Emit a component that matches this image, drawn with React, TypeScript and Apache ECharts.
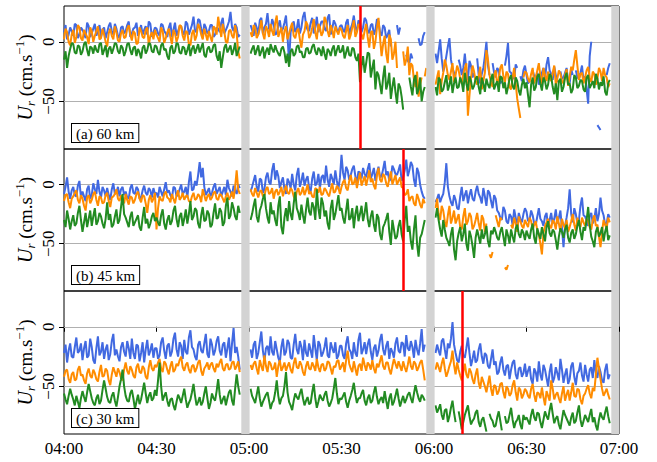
import React, { useEffect, useRef } from 'react';
import * as echarts from 'echarts';

// Time axis: minutes since 04:00. "Full" arrays hold the value at each whole minute (0..180),
// "Half" arrays the value read at each half minute (0.5..179.5).
const X_TICKS = [0, 30, 60, 90, 120, 150, 180];
const Y_TICKS = [-50, 0];
const PANEL_LABELS = ['(a) 60 km', '(b) 45 km', '(c) 30 km'];
const RED_LINES = [96, 110, 129];
const GAP_BANDS = [[57.5, 60.2], [117.5, 120.2], [177.5, 180]];

const a60Blue = [
  8, 2, 12, 5, 14, 6, 10, 3, 13, 7, 15, 9, 4, 12, 8, 16, 6, 11, 3, 13, 9, 17, 7, 12, 5, 14, 10, 6, 15, 8,
  11, 5, 14, 7, 12, 4, 16, 9, 13, 6, 15, 10, 21, 8, 18, 5, 12, 9, 14, 6, 11, 16, 7, 13, 25, 9, 12, 6, null, null,
  null, 10, 16, 6, 20, 12, 24, 9, 15, 7, 18, 11, 22, -18, 14, 8, 19, 12, 25, 10, 16, 7, 21, 13, 17, 9, 23, 11, 15, 8,
  14, 8, 19, 11, 22, 9, 16, 12, 18, 7, 15, 10, 17, 5, 12, 6, -4, null, 14, 12, null, -11, -18, -14, null, 3, -2, 8, null, null,
  null, -18, 2, -25, -12, 3, -22, -30, -15, -28, -10, -32, -20, -26, -14, -35, -22, 0, -28, -18, -30, -24, -33, -20, -1, -26, -31, -22, -29, -24,
  -28, -33, -24, -30, -36, -26, -31, -13, -27, -21, -34, -25, -30, -22, -35, -28, -24, -31, -20, -29, -52, 0, null, -70, -74, null, -28, -18, null, null, null,
];
const a60BlueHalf = [
  14, 6, 9, 15, 3, 12, 7, 16, 4, 11, 5, 14, 10, 3, 13, 9, 15, 5, 12, 7, 14, 4, 11, 16, 9, 6, 13, 17, 4, 12,
  7, 15, 9, 4, 16, 10, 5, 13, 8, 17, 6, 14, 9, 19, 11, 15, 7, 14, 4, 12, 8, 20, 10, 17, 12, 15, 4, null, null, null,
  14, 5, 12, 18, 7, 15, 11, 19, 6, 13, 9, 16, 4, 8, 17, 11, 7, 21, 14, 9, 20, 12, 8, 17, 11, 20, 6, 18, 10, 13,
  10, 16, 6, 15, 12, 18, 8, 20, 10, 14, 6, 19, 8, 14, 3, 10, null, null, 6, null, null, -16, -10, null, null, -3, 5, null, null, null,
  -10, -8, -14, -20, -4, -15, -26, null, -20, -22, -24, -16, -30, null, -28, -27, -12, -20, null, -26, -22, -35, null, -12, -25, -30, -19, null, -33, -20,
  -35, null, -29, -26, -31, -22, -19, -24, -32, -28, null, -31, -26, -33, -23, null, -30, -26, -33, -40, -12, null, null, -72, null, null, -22, null, null, null,
];
const a60Orange = [
  2, 8, -3, 10, 4, 12, 1, 7, -2, 9, 5, 13, 3, 6, -4, 11, 2, 8, 0, 10, 4, 14, 1, 7, -1, 9, 3, 12, 5, 2,
  6, 0, 9, 3, 11, -2, 7, 4, 13, 1, 8, -3, 10, 5, 12, 2, 6, 9, 0, 11, 21, 4, 8, -1, 10, 3, 7, -14, null, null,
  null, 4, 12, 6, 18, 2, 10, 15, 5, 22, 8, 0, 13, 7, 16, 3, 11, -5, 9, 14, 6, 19, 2, 12, 8, 17, 4, 10, 13, 6,
  10, 3, 14, 6, 18, 8, 12, 2, 15, -5, 9, 0, 20, -12, 5, -18, 2, -10, -22, null, -8, -15, -28, -20, -38, -46, -30, -29, null, null,
  null, -30, -44, -26, -20, -32, -18, -28, -24, -35, -22, -62, -30, -25, -36, -21, -33, -7, -28, -38, -24, -31, -19, -34, -27, -40, -22, -48, -64, -30,
  -26, -34, -22, -30, -18, -36, -28, -25, -33, -20, -31, -27, -35, -23, -29, -24, -7, -32, -26, -30, -21, -34, -27, -31, -25, -22, -30, -35, null, null, null,
];
const a60OrangeHalf = [
  11, 0, 6, -1, 14, 3, 10, 4, 12, 0, 9, 2, 11, 0, 7, 5, 13, 1, 7, 3, 11, 6, 9, -2, 12, 4, 10, -3, 8, 10,
  3, 12, -1, 8, 4, 10, 0, 14, 5, 9, -2, 7, 1, 15, 6, 11, 1, 4, 13, 6, 12, 15, 0, 9, 5, 14, -8, null, null, null,
  8, 14, 3, 11, 7, 13, 4, 9, 16, 4, 12, 9, 2, 12, 5, 9, 2, 6, 17, 3, 12, 8, 15, 5, 21, 9, 14, 3, 9, 12,
  5, 9, 2, 12, 4, 15, 6, 9, 4, 8, -6, 12, 3, -2, -10, 6, -15, 0, null, null, -20, -4, -18, -32, -25, -36, null, -22, null, null,
  -36, -24, -33, -15, -28, -25, -34, -20, -31, -27, -18, -45, -20, -33, -29, -40, -26, -15, -34, -28, -36, -22, -29, -25, -38, -30, -35, -56, null, -25,
  -31, -27, -35, -24, -29, -22, -33, -30, -26, -36, -24, -33, -28, -37, -21, -15, -20, -27, -35, -24, -30, -25, -36, -22, -33, -28, -38, null, null, null,
];
const a60Green = [
  -15, -22, -6, -2, -10, -4, -8, 0, -12, -5, -3, -9, -1, -7, -13, -4, -6, -2, -10, -5, -8, -1, -11, -4, -6, -14, -3, -7, -2, -9,
  -4, -11, -1, -6, -15, -3, -8, -2, -10, -5, -7, -12, -3, -6, -9, -1, -13, -4, -8, -2, -16, -22, -5, -9, -3, -7, -12, -4, null, null,
  null, -6, -11, -3, -8, -14, -5, -2, -9, -7, -12, -4, -18, -21, -6, -10, -3, -8, -13, -5, -9, -2, -11, -7, -4, -15, -8, -6, -12, -3,
  -8, -14, -4, -12, -6, -16, -34, -12, -18, -10, -22, -40, -28, -44, -20, -35, -48, -30, -52, -38, -57, null, -30, -45, -28, -40, -50, -38, null, null,
  null, -45, -32, -40, -28, -36, -43, -30, -38, -34, -26, -41, -33, -37, -29, -44, -35, -31, -39, -27, -36, -42, -30, -34, -38, -28, -40, -33, -45, -31,
  -34, -55, -30, -38, -27, -41, -33, -36, -29, -44, -49, -31, -38, -26, -35, -40, -30, -37, -33, -42, -28, -36, -39, -31, -34, -29, -45, -32, null, null, null,
];
const a60GreenHalf = [
  -8, -12, -1, -9, -3, -11, -2, -7, -4, -10, -7, -2, -11, -3, -6, -10, -1, -8, -3, -12, -2, -7, -5, -12, -9, -5, -10, -1, -8, -3,
  -9, -3, -7, -12, -5, -10, -1, -9, -4, -11, -2, -6, -10, -2, -5, -11, -6, -9, -3, -12, -8, -13, -2, -6, -11, -1, -8, null, null, null,
  -10, -3, -7, -12, -4, -8, -11, -6, -3, -10, -6, -9, -10, -8, -12, -4, -9, -13, -6, -10, -4, -8, -5, -12, -10, -6, -12, -3, -7, -9,
  -3, -9, -11, -5, -13, -10, -20, -26, -9, -30, -15, -25, -36, -30, -40, -26, -38, -42, -35, -46, null, null, -38, -32, -44, -30, -42, null, null, null,
  -38, -30, -42, -34, -41, -29, -35, -39, -30, -42, -35, -29, -40, -31, -38, -30, -42, -36, -31, -40, -33, -29, -39, -44, -31, -37, -30, -41, -36, -39,
  -45, -36, -41, -29, -35, -30, -40, -27, -38, -35, -33, -42, -30, -36, -43, -28, -39, -32, -40, -30, -39, -33, -27, -40, -37, -42, -35, null, null, null,
];

const b45Blue = [
  -8, 6, -12, -2, -10, 3, -6, -14, -1, -9, -4, 4, -11, -5, -3, -13, 1, -7, -10, -2, -6, -12, 0, -8, -4, -11, -1, -9, -5, -3,
  -7, -2, -10, 2, -5, -12, -3, -8, 0, -6, -11, 11, -4, -1, 19, 14, -9, -3, -7, 1, -5, -10, -2, 4, -6, -1, -8, -3, null, null,
  null, -2, 8, -6, 4, -4, 10, 0, 18, 12, -3, 6, -8, 2, 9, -5, 14, 3, -1, 7, -6, 11, 1, -3, 8, 16, -2, 5, 12, -4,
  25, 4, 12, 8, 16, 2, 10, 14, 6, 18, 9, 3, 15, 7, 20, 11, 5, 13, 8, 17, 6, 21, 12, 16, -2, 10, -6, -12, null, null,
  null, -12, -15, -8, 18, -10, -18, -13, -21, -2, -9, -16, -4, -14, -1, -11, -3, -18, -7, -20, -12, -24, -30, -22, -33, -27, -21, -35, -29, -25,
  -23, -30, -26, -34, -20, -31, -27, -36, -24, -29, -33, -22, -53, -28, -4, -32, -25, -30, -11, -27, -35, -24, -29, -31, -11, -26, -33, -28, null, null, null,
];
const b45BlueHalf = [
  -2, -6, -5, -9, -1, -11, -10, -4, -12, 1, -8, -6, -2, -10, -9, -4, -8, -2, -4, -9, -11, -3, -7, -2, -12, -5, -7, -3, -11, -8,
  -11, -6, -4, -7, -9, -2, -10, -4, -8, -2, 2, -5, 3, 8, 6, -2, -6, -10, -2, -8, -2, -6, -9, -3, -10, -5, 0, null, null, null,
  -6, 3, -2, 5, -7, 6, 2, 12, 4, 7, 2, -4, 5, -3, 0, 8, -2, 10, 4, -3, 5, -1, 9, 6, 1, 4, 9, 0, 3, 6,
  10, 15, 4, 13, 7, 11, 5, 9, 13, 5, 14, 10, 6, 13, 8, 3, 16, 9, 12, 3, 12, 7, 19, 4, 14, 0, -10, null, null, null,
  -15, -8, -11, 2, -2, -15, -9, -20, -10, -14, -5, -9, -12, -6, -8, -16, -10, -5, -14, -9, -22, -28, -19, -31, -25, -34, -28, -24, -32, -20,
  -31, -22, -33, -27, -29, -35, -24, -30, -33, -21, -28, -37, -35, -20, -25, -20, -33, -18, -26, -31, -27, -33, -20, -25, -22, -34, -25, null, null, null,
];
const b45Orange = [
  -14, -8, -20, -10, -5, -16, -12, -22, -9, -13, -6, -18, -11, -15, -7, -19, -10, -4, -14, -12, -8, -17, -11, -13, -6, -15, -10, -24, -9, -12,
  -38, -10, -14, -6, -12, -8, -16, -5, -11, -13, -9, -15, -7, -12, -10, -4, -14, -8, -11, -6, -13, -9, -15, -7, -10, -12, 12, -8, null, null,
  null, -8, -3, -11, -5, -9, -2, -7, -12, -4, -6, -10, -1, -8, -5, -13, -3, -7, -9, 0, -6, -11, -4, -2, -8, -5, -10, 1, -6, -3,
  -2, 4, -5, 8, 1, -3, 10, 3, -1, 12, 5, -4, 14, 2, 7, -2, 11, 4, 0, 6, -3, -8, -14, -10, -18, -12, -20, -16, null, null,
  null, -12, -30, -22, -36, -18, -28, -33, -25, -38, -20, -31, -27, -35, -24, -39, -29, -33, -59, -57, -26, -36, -30, -70, -68, -34, -28, -40, -31, -37,
  -33, -28, -38, -31, -42, -59, -35, -29, -37, -32, -27, -40, -34, -30, -36, -25, -39, -33, -28, -35, -31, -38, -26, -34, -53, -30, -37, -32, null, null, null,
];
const b45OrangeHalf = [
  -9, -15, -12, -7, -13, -9, -18, -11, -16, -8, -13, -10, -16, -9, -14, -11, -8, -12, -9, -16, -13, -10, -16, -8, -12, -9, -16, -13, -15, -7,
  -20, -13, -8, -11, -15, -12, -9, -13, -7, -10, -14, -10, -13, -8, -15, -9, -10, -13, -7, -12, -8, -12, -10, -13, -6, -2, -4, null, null, null,
  -4, -10, -7, -6, -10, -4, -8, -3, -6, -9, -2, -5, -7, -3, -10, -6, -9, -2, -5, -8, -10, -3, -7, -9, -3, -8, -4, -7, -1, -8,
  2, -3, 3, 0, 6, 4, -1, 7, 5, 2, -1, 8, 4, 9, 1, 5, 0, 8, 3, -2, -9, -4, -11, -16, -8, -17, -12, null, null, null,
  -20, -25, -18, -31, -26, -33, -22, -29, -36, -27, -34, -24, -38, -30, -33, -26, -40, null, -62, null, -31, -28, null, -72, null, -37, -33, -27, -35, -30,
  -36, -31, -34, -39, -50, -41, -32, -35, -30, -38, -33, -29, -37, -40, -31, -34, -28, -36, -32, -29, -36, -30, -35, -44, -40, -34, -28, null, null, null,
];
const b45Green = [
  -30, -22, -38, -26, -33, -18, -40, -24, -29, -35, -20, -31, -27, -37, -15, -25, -34, -21, -30, -8, -28, -36, -23, -32, -26, -39, -19, -29, -33, -24,
  -28, -35, -21, -38, -26, -31, -18, -36, -24, -29, -33, -14, -27, -22, -37, -19, -30, -25, -34, -16, -28, -23, -32, -11, -26, -20, -30, -24, null, null,
  null, -25, -12, -32, -18, -8, -28, -15, -22, -35, -10, -42, -20, -14, -30, -6, -24, -17, -33, -11, -26, -19, -4, -29, -16, -22, -38, -13, -25, -9,
  -20, -33, -12, -28, -37, -18, -25, -31, -15, -36, -22, -40, -28, -47, -33, -24, -51, -38, -44, -30, -48, -18, -35, -55, -26, -61, -42, -30, null, null,
  null, -20, -38, -30, -45, -52, -36, -64, -41, -48, -33, -56, -44, -62, -38, -50, -46, -35, -53, -42, -40, -47, -36, -52, -43, -38, -49, -34, -45, -41,
  -39, -46, -33, -50, -42, -36, -48, -31, -44, -40, -55, -37, -45, -34, -49, -38, -42, -30, -47, -39, -19, -44, -53, -36, -41, -48, -35, -43, null, null, null,
];
const b45GreenHalf = [
  -36, -29, -31, -35, -24, -30, -32, -36, -22, -27, -34, -24, -33, -29, -30, -36, -27, -33, -19, -25, -32, -27, -35, -29, -36, -28, -33, -37, -27, -31,
  -32, -26, -33, -30, -34, -22, -29, -27, -35, -21, -25, -30, -20, -33, -26, -31, -22, -36, -24, -29, -20, -35, -18, -29, -15, -27, -18, null, null, null,
  -30, -18, -27, -22, -12, -20, -33, -25, -30, -18, -36, -28, -31, -25, -16, -20, -30, -26, -21, -23, -15, -30, -20, -11, -27, -33, -20, -30, -17, -22,
  -28, -22, -30, -20, -25, -31, -18, -24, -29, -27, -34, -25, -42, -36, -29, -40, -30, -46, -35, -42, -30, -40, -48, -38, -50, -45, -36, null, null, null,
  -28, -30, -44, -38, -48, -42, -55, -48, -36, -42, -50, -39, -52, -45, -44, -38, -42, -48, -39, -36, -45, -40, -44, -38, -50, -44, -37, -42, -38, -47,
  -43, -38, -45, -37, -46, -42, -36, -41, -38, -47, -44, -40, -38, -45, -41, -46, -35, -40, -36, -30, -34, -48, -40, -44, -36, -40, -47, null, null, null,
];

const c30Blue = [
  -22, -30, -14, -26, -9, -20, -28, -12, -24, -17, -31, -8, -21, -27, -15, -23, -6, -19, -29, -13, -25, -18, -10, -27, -16, -22, -30, -11, -20, -26,
  -18, -24, -9, -27, -14, -21, -5, -25, -16, -11, -23, -3, -19, -28, -12, -22, -6, -26, -15, -20, -8, -24, -13, -18, -29, -1, -17, -36, null, null,
  null, -26, -12, -22, -4, -29, -16, -8, -24, -19, -30, -10, -21, -14, -27, -6, -23, -17, -11, -25, -20, -7, -28, -15, -22, -9, -26, -18, -13, -24,
  -16, -27, -8, -21, -13, -25, -5, -19, -23, -10, -28, -15, -20, -6, -24, -12, -18, -26, -9, -22, -14, -7, -20, -17, -11, -24, -2, -15, null, null,
  null, -15, -24, -10, -27, -18, 4, -22, -30, -16, -26, -9, -33, -20, -28, -14, -31, -24, -35, -19, -29, -38, -25, -41, -32, -36, -28, -44, -34, -39,
  -42, -33, -48, -38, -29, -45, -36, -50, -31, -43, -39, -27, -47, -35, -44, -30, -49, -37, -41, -32, -46, -34, -28, -43, -38, -47, -31, -40, null, null, null,
];
const c30BlueHalf = [
  -15, -20, -25, -17, -22, -14, -18, -26, -10, -28, -18, -24, -13, -19, -28, -12, -24, -25, -17, -21, -12, -27, -22, -15, -29, -13, -19, -24, -14, -18,
  -27, -13, -20, -16, -25, -10, -19, -13, -27, -21, -9, -17, -25, -15, -20, -14, -23, -10, -24, -12, -20, -15, -26, -9, -14, -22, -25, null, null, null,
  -19, -15, -27, -13, -20, -18, -24, -21, -12, -26, -17, -24, -11, -26, -15, -19, -12, -28, -22, -14, -26, -18, -12, -25, -17, -24, -13, -22, -27, -16,
  -24, -14, -19, -27, -22, -11, -23, -13, -15, -21, -18, -25, -11, -19, -16, -27, -21, -14, -20, -13, -25, -18, -12, -26, -19, -14, -21, null, null, null,
  -22, -20, -12, -19, -14, -10, -15, -28, -21, -24, -18, -22, -27, -30, -19, -25, -22, -33, -27, -32, -40, -30, -36, -33, -44, -30, -40, -35, -42, -31,
  -37, -44, -35, -46, -40, -32, -43, -38, -47, -34, -45, -36, -40, -48, -33, -42, -39, -30, -46, -40, -36, -43, -39, -33, -45, -36, -44, null, null, null,
];
const c30Orange = [
  -42, -36, -47, -38, -44, -33, -40, -48, -35, -43, -39, -46, -32, -41, -37, -49, -34, -42, -38, -45, -30, -40, -36, -43, -31, -39, -35, -44, -28, -37,
  -34, -27, -38, -31, -40, -29, -36, -33, -25, -37, -30, -39, -32, -35, -28, -41, -33, -36, -30, -38, -34, -27, -37, -31, -35, -29, -33, -38, null, null,
  null, -36, -29, -40, -33, -24, -38, -31, -35, -42, -28, -34, -37, -30, -39, -26, -35, -32, -41, -29, -36, -33, -27, -38, -31, -35, -30, -40, -34, -28,
  -33, -38, -20, -35, -29, -41, -31, -26, -37, -32, -28, -39, -34, -24, -36, -30, -40, -27, -35, -33, -29, -38, -25, -36, -31, -34, -28, -45, null, null,
  null, -30, -38, -26, -42, -33, -20, -40, -36, -45, -31, -43, -38, -48, -35, -52, -46, -55, -41, -58, -50, -54, -47, -60, -52, -56, -45, -62, -53, -57,
  -54, -60, -48, -63, -56, -51, -66, -58, -45, -61, -55, -64, -50, -57, -62, -47, -59, -53, -65, -56, -49, -60, -54, -26, -44, -58, -52, -61, null, null, null,
];
const c30OrangeHalf = [
  -37, -44, -40, -45, -36, -41, -45, -39, -41, -36, -44, -38, -42, -35, -45, -40, -38, -35, -43, -36, -37, -33, -41, -34, -38, -33, -42, -34, -35, -32,
  -30, -35, -29, -36, -33, -38, -31, -28, -34, -32, -36, -33, -38, -30, -37, -35, -30, -32, -35, -31, -30, -35, -32, -36, -30, -36, -29, null, null, null,
  -32, -31, -35, -28, -37, -33, -29, -36, -30, -33, -37, -30, -33, -36, -31, -34, -29, -38, -33, -35, -30, -37, -34, -32, -37, -29, -35, -33, -29, -36,
  -30, -28, -31, -38, -35, -33, -37, -32, -30, -36, -35, -31, -29, -33, -30, -36, -33, -31, -29, -37, -34, -32, -33, -29, -37, -30, -36, null, null, null,
  -36, -34, -31, -35, -38, -29, -32, -30, -41, -38, -40, -35, -44, -40, -47, -42, -50, -48, -52, -49, -57, -48, -55, -50, -58, -49, -55, -51, -60, -52,
  -58, -52, -57, -55, -60, -59, -54, -62, -52, -57, -60, -56, -62, -53, -55, -58, -52, -61, -58, -52, -56, -51, -40, -35, -52, -55, -57, null, null, null,
];
const c30Green = [
  -56, -65, -52, -61, -58, -68, -54, -63, -48, -60, -66, -57, -62, -45, -59, -64, -55, -67, -50, -36, -58, -63, -53, -69, -57, -61, -47, -64, -55, -60,
  -58, -30, -62, -55, -67, -60, -70, -57, -64, -52, -68, -61, -48, -66, -59, -63, -50, -69, -56, -62, -44, -65, -58, -60, -53, -66, -40, -57, null, null,
  null, -58, -64, -50, -67, -60, -55, -69, -62, -45, -65, -58, -38, -63, -70, -56, -61, -52, -66, -59, -64, -48, -68, -57, -62, -54, -67, -60, -43, -65,
  -61, -55, -68, -58, -47, -64, -60, -53, -66, -57, -62, -50, -65, -59, -54, -69, -56, -63, -52, -67, -58, -61, -55, -64, -49, -60, -57, -62, null, null,
  null, -72, -65, -78, -69, -75, -62, -80, -71, -86, -74, -66, -82, -77, -70, -84, -76, -88, -73, -79, -83, -71, -87, -75, -80, -68, -85, -78, -82, -74,
  -76, -82, -69, -79, -73, -85, -71, -78, -64, -81, -75, -86, -70, -77, -83, -72, -79, -66, -84, -74, -80, -69, -76, -87, -72, -78, -67, -81, null, null, null,
];
const c30GreenHalf = [
  -61, -58, -57, -66, -63, -60, -59, -55, -54, -64, -60, -65, -53, -52, -63, -58, -62, -59, -44, -50, -62, -56, -60, -63, -65, -54, -56, -58, -62, -53,
  -45, -50, -58, -62, -61, -66, -63, -60, -58, -61, -64, -55, -58, -63, -66, -56, -60, -64, -60, -54, -57, -61, -66, -55, -62, -52, -50, null, null, null,
  -52, -61, -57, -60, -63, -57, -62, -64, -55, -58, -60, -50, -55, -66, -62, -59, -56, -60, -62, -65, -55, -60, -63, -60, -57, -62, -64, -52, -56, -60,
  -58, -63, -62, -53, -57, -60, -56, -62, -60, -64, -55, -59, -61, -64, -62, -60, -66, -58, -60, -62, -64, -57, -60, -56, -55, -63, -59, null, null, null,
  -66, -69, -74, -70, -80, -68, -72, null, -78, -80, -70, -75, -79, -72, -80, -78, -82, null, -77, -84, -76, -79, null, -81, -74, -78, -80, -74, -86, -78,
  -79, -74, -76, -72, -80, -78, -75, -70, -73, -77, -82, -78, -74, -80, -76, -81, -72, -78, -79, -77, -74, -80, -83, -78, -76, -72, -75, null, null, null,
];

const PANELS = [
  [[a60Blue, a60BlueHalf], [a60Orange, a60OrangeHalf], [a60Green, a60GreenHalf]],
  [[b45Blue, b45BlueHalf], [b45Orange, b45OrangeHalf], [b45Green, b45GreenHalf]],
  [[c30Blue, c30BlueHalf], [c30Orange, c30OrangeHalf], [c30Green, c30GreenHalf]],
];
const COLORS = ['#4169E1', '#FF8C00', '#228B22'];
const FONT = '"Liberation Serif", "Times New Roman", serif';

const fmtTime = (v: number) => {
  const h = 4 + Math.floor(v / 60);
  const m = Math.round(v % 60);
  return `0${h}:${m < 10 ? '0' + m : m}`;
};
const fmtY = (v: number) => (v < 0 ? '\u2212' + Math.abs(v) : String(v));

function merge(full: (number | null)[], half: (number | null)[]) {
  const out: [number, number | null][] = [];
  full.forEach((v, i) => {
    out.push([i, v]);
    if (i < half.length) out.push([i + 0.5, half[i]]);
  });
  return out;
}

const TOPS = [6, 149, 291];
const HEIGHTS = [143, 142, 143];

function buildOption() {
  const grid = TOPS.map((t, i) => ({
    left: 64, top: t, width: 555, height: HEIGHTS[i],
    show: true, borderColor: '#000', borderWidth: 1, backgroundColor: 'transparent',
  }));
  const xAxis = TOPS.map((_, i) => ({
    type: 'value', gridIndex: i, min: X_TICKS[0], max: X_TICKS[X_TICKS.length - 1], interval: 30,
    axisLine: { show: false },
    splitLine: { show: false },
    axisTick: { show: i === 2, length: 5, lineStyle: { color: '#000' } },
    axisLabel: {
      show: i === 2, formatter: fmtTime, color: '#000', fontFamily: FONT, fontSize: 17, margin: 6,
    },
  }));
  const yAxis = TOPS.map((_, i) => ({
    type: 'value', gridIndex: i, min: -90, max: 30, interval: 10,
    axisLine: { show: false },
    splitLine: { show: false },
    axisTick: { show: true, length: 5, customValues: Y_TICKS, lineStyle: { color: '#000' } },
    axisLabel: { show: false },
    name: '{u|U}{r|r}{t| (cm.s}{s|\u22121}{t|)}',
    nameLocation: 'middle',
    nameGap: 27,
    nameRotate: 90,
    nameTextStyle: {
      color: '#000', fontFamily: FONT, fontSize: 19, lineHeight: 24,
      rich: {
        u: { fontFamily: FONT, fontSize: 20, fontStyle: 'italic', color: '#000', lineHeight: 24 },
        r: { fontFamily: FONT, fontSize: 13, fontStyle: 'italic', color: '#000', verticalAlign: 'bottom', lineHeight: 24 },
        t: { fontFamily: FONT, fontSize: 19, color: '#000', lineHeight: 24 },
        s: { fontFamily: FONT, fontSize: 13, color: '#000', verticalAlign: 'top', lineHeight: 24 },
      },
    },
  }));

  const series: any[] = [];
  PANELS.forEach((panel, p) => {
    series.push({
      type: 'line', xAxisIndex: p, yAxisIndex: p, data: [], z: 1, silent: true,
      markLine: {
        silent: true, symbol: 'none', z: 1, label: { show: false },
        lineStyle: { color: '#b0b0b0', width: 1, type: 'solid' },
        data: Y_TICKS.map((v) => ({ yAxis: v })),
      },
    });
    panel.forEach(([full, half], k) => {
      series.push({
        type: 'line', xAxisIndex: p, yAxisIndex: p, z: 2 + k * 0.1, silent: true,
        showSymbol: false, symbol: 'none', connectNulls: false,
        lineStyle: { color: COLORS[k], width: 2 },
        data: merge(full, half),
      });
    });
    series.push({
      type: 'line', xAxisIndex: p, yAxisIndex: p, data: [], z: 4, silent: true,
      markArea: {
        silent: true, z: 4,
        itemStyle: { color: '#d3d3d3', opacity: 1 },
        data: GAP_BANDS.map(([a, b]) => [{ xAxis: a }, { xAxis: b }]),
      },
      markLine: {
        silent: true, symbol: 'none', z: 5, label: { show: false },
        lineStyle: { color: '#ff0000', width: 2.5, type: 'solid', opacity: 1 },
        data: [{ xAxis: RED_LINES[p] }],
      },
    });
  });

  return { animation: false, grid, xAxis, yAxis, series };
}

export default function App() {
  const ref = useRef<HTMLDivElement>(null);
  useEffect(() => {
    document.body.style.margin = '0';
    const chart = echarts.init(ref.current!, null, { renderer: 'svg' });
    chart.setOption(buildOption() as any);

    const graphic: any[] = [];
    // panel labels, anchored to each grid's bottom-left through the axis scales
    PANEL_LABELS.forEach((t, i) => {
      const [px, py] = chart.convertToPixel({ gridIndex: i }, [0, -90]) as number[];
      graphic.push({
        type: 'text', x: px + 8, y: py - 7, z: 100,
        style: {
          text: t, font: `15px ${FONT}`, fill: '#000',
          backgroundColor: '#fff', borderColor: '#000', borderWidth: 1,
          padding: [2, 4, 1, 4], verticalAlign: 'bottom', align: 'left',
        },
      });
      // rotated y tick labels
      Y_TICKS.forEach((v) => {
        const [tx, ty] = chart.convertToPixel({ gridIndex: i }, [0, v]) as number[];
        graphic.push({
          type: 'text', x: tx - 7, y: ty, rotation: Math.PI / 2, z: 100,
          style: {
            text: fmtY(v), font: `17px ${FONT}`, fill: '#000',
            align: 'center', verticalAlign: 'bottom',
          },
        });
      });
    });
    chart.setOption({ graphic });
    return () => chart.dispose();
  }, []);
  return <div ref={ref} style={{ width: 657, height: 462 }} />;
}
